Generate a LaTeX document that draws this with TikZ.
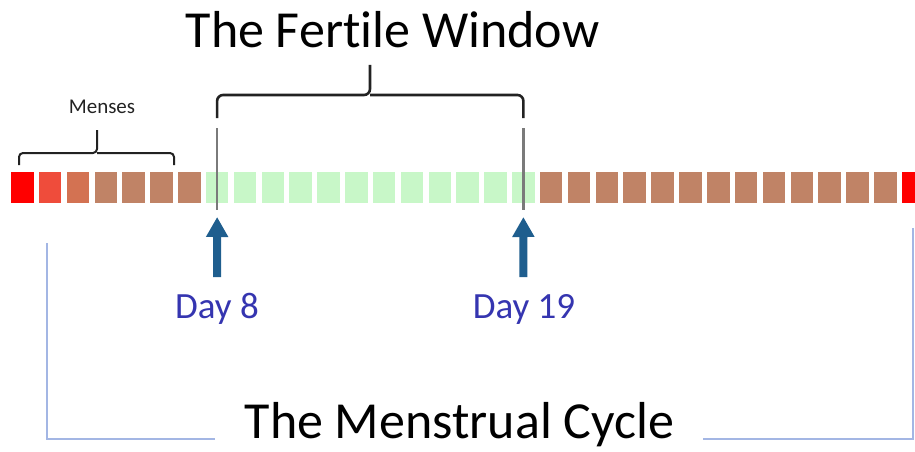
\documentclass[tikz,border=0pt]{standalone}
\usepackage{fontspec}
\setmainfont[RawFeature={-liga,-dlig,-calt}]{Carlito}
\usetikzlibrary{arrows.meta}
\definecolor{menred}{HTML}{FF0000}
\definecolor{mentwo}{HTML}{EF4C3B}
\definecolor{menthree}{HTML}{D37252}
\definecolor{lutealbrown}{HTML}{C08366}
\definecolor{fertilegreen}{HTML}{C8F7C8}
\definecolor{daytext}{HTML}{3535B0}
\definecolor{arrowblue}{HTML}{1F5E8E}
\definecolor{cycleblue}{HTML}{A3B6E4}
\definecolor{markgrey}{HTML}{7A7A7A}
\definecolor{inkdark}{HTML}{222222}

\begin{document}
\begin{tikzpicture}[
    x=1pt, y=-1pt,
    every node/.style={
        inner sep=0pt,
        outer sep=0pt
    },
    daybox/.style={
        rectangle,
        minimum width=22.5pt,
        minimum height=31pt
    },
    bigtitle/.style={
        font=\fontsize{52}{52}\selectfont,
        text=black,
        anchor=base
    },
    daylabel/.style={
        font=\fontsize{37}{37}\selectfont,
        text=daytext,
        anchor=base
    },
    bracebig/.style={
        line width=2.6pt,
        draw=inkdark,
        rounded corners=6pt
    },
    bracesmall/.style={
        line width=2pt,
        draw=inkdark,
        rounded corners=4pt
    },
    markline/.style={
        line width=2.4pt,
        draw=markgrey
    },
    dayarrow/.style={
        line width=8pt,
        draw=arrowblue,
        -{Triangle[width=21pt,length=20pt]}
    },
    cycleline/.style={
        line width=2.4pt,
        draw=cycleblue
    }
]
\useasboundingbox (0,0) rectangle (915,452);

\node[daybox, fill=menred] (d1) at (22.25,187.5) {};
\node[daybox, fill=mentwo] (d2) at (22.25+27.84,187.5) {};
\node[daybox, fill=menthree] (d3) at (22.25+2*27.84,187.5) {};
\foreach \d in {4,...,7}
    \node[daybox, fill=lutealbrown] (d\d) at ({22.25+27.84*(\d-1)},187.5) {};
\foreach \d in {8,...,19}
    \node[daybox, fill=fertilegreen] (d\d) at ({22.25+27.84*(\d-1)},187.5) {};
\foreach \d in {20,...,32}
    \node[daybox, fill=lutealbrown] (d\d) at ({22.25+27.84*(\d-1)},187.5) {};
\node[daybox, fill=menred] (d33) at ({22.25+27.84*32},187.5) {};

\node[font=\fontsize{21}{21}\selectfont, text=inkdark, anchor=base] (menses) at (102,113) {Menses};
\draw[bracesmall] (19,165) -- (19,153) -- (97,153) -- (97,130);
\draw[bracesmall] (174,165) -- (174,153) -- (97,153);

\node[bigtitle] (fw) at (392.5,48) {The Fert\kern0pt ile Window};
\draw[bracebig] (217.1,118) -- (217.1,95) -- (370,95) -- (370,65);
\draw[bracebig] (523.4,118) -- (523.4,95) -- (370,95);

\draw[markline] ([yshift=59.5pt]d8.center) -- ([yshift=-22.5pt]d8.center);
\draw[markline] ([yshift=59.5pt]d19.center) -- ([yshift=-22.5pt]d19.center);

\node[daylabel] (l8) at (217,318) {Day 8};
\node[daylabel] (l19) at (524,318) {Day 19};
\coordinate (a8) at (217.1,277);
\coordinate (a19) at (523.4,277);
\draw[dayarrow] (a8) -- ([yshift=-14pt]d8.south);
\draw[dayarrow] (a19) -- ([yshift=-14pt]d19.south);

\node[bigtitle] (mc) at (459.5,438) {The Menstrual Cycle};
\coordinate (cl) at (47,243);
\coordinate (cr) at (913,228);
\draw[cycleline] (cl) -- (47,439) -- (215,439);
\draw[cycleline] (cr) -- (913,439) -- (703,439);

\end{tikzpicture}
\end{document}
